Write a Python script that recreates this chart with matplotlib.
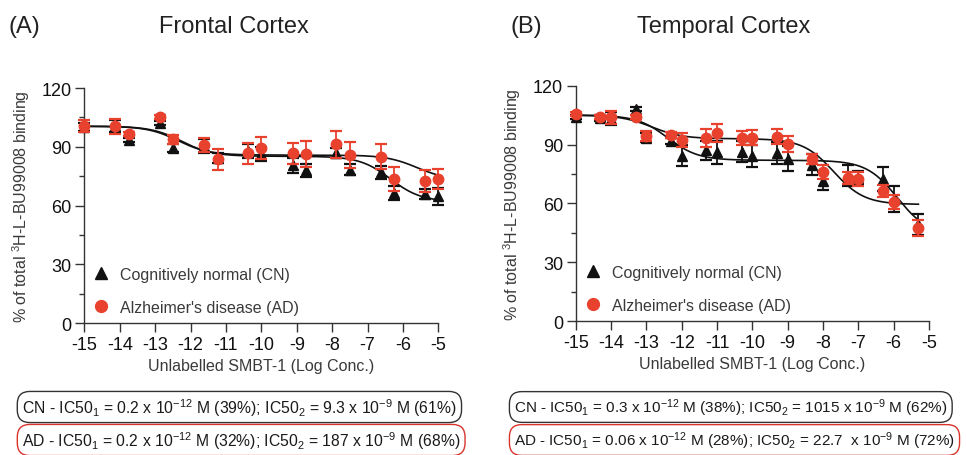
import numpy as np
import matplotlib
matplotlib.use("Agg")
import matplotlib.pyplot as plt
from matplotlib.lines import Line2D

plt.rcParams["font.family"] = ["Liberation Sans", "DejaVu Sans"]
plt.rcParams["mathtext.fontset"] = "custom"
plt.rcParams["mathtext.rm"] = "Liberation Sans"
plt.rcParams["mathtext.default"] = "regular"
plt.rcParams["axes.unicode_minus"] = False

RED = "#e8412e"
BLK = "#111111"
GREY = "#3a3a3a"

# ---- panel A: frontal cortex ----
xa = [-15.0, -14.13, -13.74, -12.87, -12.49, -11.62, -11.23, -10.37, -10.0,
      -9.11, -8.75, -7.89, -7.5, -6.63, -6.24, -5.38, -5.0]
cn_a = [100.2, 100.8, 93.5, 102.0, 89.6, 90.5, 84.5, 88.0, 86.3,
        80.5, 78.0, 87.0, 78.3, 77.0, 66.6, 65.9, 64.7]
cn_a_err = [2.0, 3.0, 1.0, 1.0, 2.1, 3.5, 2.5, 3.5, 3.5,
            3.6, 3.4, 2.5, 2.7, 3.2, 3.5, 2.5, 4.2]
ad_a = [100.5, 100.5, 96.6, 105.1, 93.8, 90.9, 83.7, 86.8, 89.6,
        86.8, 86.3, 91.3, 85.9, 85.0, 73.7, 72.6, 73.8]
ad_a_err = [3.0, 3.7, 1.0, 1.0, 2.4, 3.6, 5.3, 5.3, 5.6,
            5.3, 6.8, 7.0, 6.6, 6.4, 6.0, 5.7, 5.1]

# ---- panel B: temporal cortex ----
xb = [-15.0, -14.3, -14.0, -13.3, -13.0, -12.3, -12.0, -11.3, -11.0, -10.3,
      -10.0, -9.3, -9.0, -8.3, -8.0, -7.3, -7.0, -6.3, -6.0, -5.3]
cn_b = [104.2, 103.5, 103.2, 108.1, 93.4, 92.0, 84.4, 87.2, 86.1, 86.4,
        84.2, 85.9, 82.8, 79.7, 71.5, 74.2, 73.0, 72.5, 62.2, 49.4]
cn_b_err = [1.0, 1.5, 3.4, 1.0, 2.3, 1.5, 5.3, 4.8, 5.8, 5.5,
            5.7, 5.6, 6.4, 5.3, 4.6, 5.3, 3.4, 6.0, 6.5, 5.2]
ad_b = [105.6, 103.9, 103.9, 104.2, 94.5, 95.1, 92.3, 93.4, 95.9, 93.4,
        93.5, 93.9, 90.3, 82.5, 76.0, 72.8, 72.5, 66.4, 60.6, 47.6]
ad_b_err = [1.0, 1.0, 3.4, 1.0, 2.5, 1.5, 3.6, 4.7, 4.5, 3.6,
            3.8, 3.8, 4.2, 2.5, 3.4, 3.0, 3.6, 3.1, 3.6, 4.1]

# two-site fit curves as drawn: (top, plateau, bottom, logIC50_1, logIC50_2, x_end)
fit_cn_a = (100.5, 85.2, 62.0, -12.25, -6.35, -5.0)
fit_ad_a = (100.5, 85.8, 73.0, -12.35, -5.6, -5.0)
fit_cn_b = (105.0, 82.0, 44.0, -12.4, -5.9, -5.3)
fit_ad_b = (105.0, 93.0, 59.5, -12.85, -7.7, -5.3)

titles = ["Frontal Cortex", "Temporal Cortex"]
letters = ["(A)", "(B)"]
ic50_cn = [r"CN - IC50$_1$ = 0.2 x 10$^{-12}$ M (39%); IC50$_2$ = 9.3 x 10$^{-9}$ M (61%)",
           r"CN - IC50$_1$ = 0.3 x 10$^{-12}$ M (38%); IC50$_2$ = 1015 x 10$^{-9}$ M (62%)"]
ic50_ad = [r"AD - IC50$_1$ = 0.2 x 10$^{-12}$ M (32%); IC50$_2$ = 187 x 10$^{-9}$ M (68%)",
           r"AD - IC50$_1$ = 0.06 x 10$^{-12}$ M (28%); IC50$_2$ = 22.7  x 10$^{-9}$ M (72%)"]


def two_site(p):
    top, mid, bot, l1, l2, xend = p
    x = np.linspace(-15, xend, 300)
    y = bot + (mid - bot) / (1 + 10 ** (x - l2)) + (top - mid) / (1 + 10 ** (x - l1))
    return x, y


fig = plt.figure(figsize=(9.66, 4.56), dpi=100)
axes = [fig.add_axes([0.0873, 0.2888, 0.3665, 0.516]),
        fig.add_axes([0.5960, 0.2932, 0.3657, 0.5167])]

panels = [(xa, cn_a, cn_a_err, ad_a, ad_a_err, fit_cn_a, fit_ad_a),
          (xb, cn_b, cn_b_err, ad_b, ad_b_err, fit_cn_b, fit_ad_b)]

for ax, (x, cn, cne, ad, ade, fcn, fad) in zip(axes, panels):
    for p in (fcn, fad):
        cx, cy = two_site(p)
        ax.plot(cx, cy, color=BLK, lw=1.2, zorder=2)
    ax.errorbar(x, cn, yerr=cne, fmt="^", color=BLK, ms=7, capsize=4.3,
                capthick=1.6, elinewidth=1.3, zorder=3, clip_on=False)
    ax.errorbar(x, ad, yerr=ade, fmt="o", color=RED, ms=7.5, capsize=4.3,
                capthick=1.6, elinewidth=1.3, zorder=4, clip_on=False)

    ax.set_xlim(-15, -5)
    ax.set_ylim(0, 120)
    ax.set_xticks(np.arange(-15, -4, 1))
    ax.set_yticks([0, 30, 60, 90, 120])
    ax.set_yticks([15, 45, 75, 105], minor=True)
    for s in ("top", "right"):
        ax.spines[s].set_visible(False)
    for s in ("left", "bottom"):
        ax.spines[s].set_linewidth(1.0)
        ax.spines[s].set_color("#333333")
    ax.tick_params(which="major", length=6.5, width=1.0, color="#333333",
                   labelsize=13, pad=2.5, labelcolor=BLK)
    ax.tick_params(which="minor", length=3.6, width=1.0, color="#333333")
    ax.set_xlabel("Unlabelled SMBT-1 (Log Conc.)", fontsize=11.5, color=GREY, labelpad=4)
    ax.set_ylabel(r"% of total $^{3}$H-L-BU99008 binding", fontsize=11.5, color=GREY, labelpad=7)

    handles = [Line2D([], [], marker="^", ls="none", color=BLK, ms=8),
               Line2D([], [], marker="o", ls="none", color=RED, ms=8.5)]
    ax.legend(handles, ["Cognitively normal (CN)", "Alzheimer's disease (AD)"],
              loc="lower left", bbox_to_anchor=(0.0, 0.0), frameon=False,
              fontsize=11.5, labelcolor=GREY, handlelength=1.0, handletextpad=0.7,
              labelspacing=1.1, borderaxespad=0.15)

# titles and panel letters
fig.text(8 / 966, 1 - 27 / 456, letters[0], fontsize=17, color="#222222", va="center")
fig.text(511 / 966, 1 - 27 / 456, letters[1], fontsize=17, color="#222222", va="center")
fig.text(234 / 966, 1 - 27 / 456, titles[0], fontsize=17, color="#222222", va="center", ha="center")
fig.text(724 / 966, 1 - 27 / 456, titles[1], fontsize=17, color="#222222", va="center", ha="center")

# IC50 boxes
for left, size, cn_txt, ad_txt in [(22, 11.3, ic50_cn[0], ic50_ad[0]),
                                   (514, 11.0, ic50_cn[1], ic50_ad[1])]:
    fig.text(left / 966, 1 - 408 / 456, cn_txt, fontsize=size, color="#1a1a1a", va="center",
             bbox=dict(boxstyle="round,pad=0.3,rounding_size=0.8", fc="white", ec="#333333", lw=1.0))
    fig.text(left / 966, 1 - 441 / 456, ad_txt, fontsize=size, color="#1a1a1a", va="center",
             bbox=dict(boxstyle="round,pad=0.3,rounding_size=0.8", fc="white", ec="#d9342b", lw=1.0))

fig.savefig("out.png", dpi=100)
